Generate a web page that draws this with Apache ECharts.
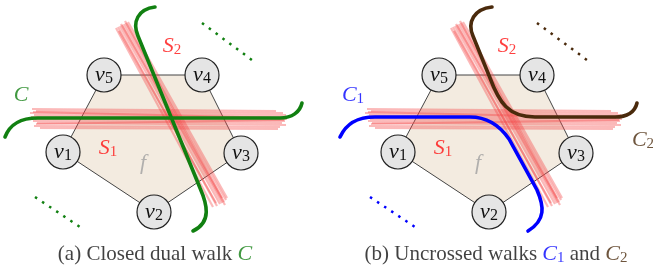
<!DOCTYPE html>
<html lang="en">
<head>
    <meta charset="UTF-8">
    <title>dual walks</title>
    <script type="text/javascript" src="https://cdn.jsdelivr.net/npm/echarts@6/dist/echarts.min.js"></script>
</head>
<body style="margin:0">
<div id="chart" style="width: 653px;height: 272px"></div>
<script type="text/javascript">

    // the two panels are the same drawing, the right one sits 335px further
    var panelShift = [0, 335];

    // face f : v1 v2 v3 v4 v5
    var nodeIds = ['1', '2', '3', '4', '5'];
    var nodeXY = [[63, 152], [154, 212], [241, 153], [202, 75], [104, 75]];

    // sketchy strokes of the two red bands S1 and S2
    var stripS1 = [
        [[32, 109], [276, 111]], [[36, 111], [283, 113]], [[30, 113], [286, 115]],
        [[34, 115], [284, 117]], [[31, 117], [287, 119]], [[35, 119], [285, 121]],
        [[33, 121], [282, 123]], [[37, 123], [286, 125]], [[34, 126], [280, 127]],
        [[40, 128], [278, 129]], [[33, 112], [281, 118]], [[36, 124], [284, 120]]
    ];
    var stripS2 = [
        [[116, 28], [213, 207]], [[118, 27], [217, 206]], [[120, 26], [220, 204]],
        [[122, 25], [222, 203]], [[124, 24], [224, 202]], [[126, 23], [226, 200]],
        [[128, 22], [227, 198]], [[119, 31], [216, 203]], [[125, 21], [222, 198]],
        [[121, 24], [225, 205]]
    ];

    // walks, as path commands in picture coordinates
    var walkC_h = [['M', 5, 137], ['C', 10, 124, 20, 118, 38, 118], ['L', 280, 118], ['C', 292, 118, 300, 112, 302, 103]];
    var walkC_d = [['M', 155, 7], ['C', 138, 9, 132, 22, 138, 36], ['L', 200, 188], ['C', 207, 204, 212, 222, 193, 231]];
    var walkC1 = [['M', 340, 137], ['C', 346, 124, 356, 117, 375, 117], ['L', 470, 117], ['C', 488, 117, 500, 126, 509, 139], ['L', 537, 190], ['C', 544, 206, 546, 220, 528, 231]];
    var walkC2 = [['M', 492, 7], ['C', 474, 9, 467, 22, 473, 36], ['L', 490, 78], ['C', 499, 102, 508, 117, 535, 117], ['L', 615, 117], ['C', 627, 117, 635, 112, 637, 103]];

    var walks = [
        {path: walkC_h, color: '#118011'},
        {path: walkC_d, color: '#118011'},
        {path: walkC1, color: '#0000ff'},
        {path: walkC2, color: '#4a2a0c'}
    ];

    var dots = [
        {line: [[202, 23], [252, 60]], color: '#118011'},
        {line: [[35, 197], [80, 227]], color: '#118011'},
        {line: [[537, 23], [587, 60]], color: '#4a2a0c'},
        {line: [[370, 197], [415, 227]], color: '#0000ff'}
    ];

    // labels : x, y, text
    var labels = [
        [21, 95, '{g|C}'],
        [172, 46, '{r|S}{rs|2}'],
        [108, 148, '{r|S}{rs|1}'],
        [143, 163, '{f|f}'],
        [353, 95, '{b|C}{bs|1}'],
        [507, 46, '{r|S}{rs|2}'],
        [443, 148, '{r|S}{rs|1}'],
        [478, 163, '{f|f}'],
        [643, 140, '{br|C}{brs|2}']
    ];
    var captions = [
        [155, 254, '{t|(a) Closed dual walk }{g|C}'],
        [496, 254, '{t|(b) Uncrossed walks }{b|C}{bs|1}{t| and }{br|C}{brs|2}']
    ];

    var serif = 'Liberation Serif';
    var mathRich = {
        t: {fontFamily: serif, fontSize: 21, color: '#111'},
        g: {fontFamily: serif, fontStyle: 'italic', fontSize: 22, color: '#118011'},
        r: {fontFamily: serif, fontStyle: 'italic', fontSize: 22, color: '#ff1010'},
        rs: {fontFamily: serif, fontSize: 15, color: '#ff1010', padding: [9, 0, 0, 0]},
        b: {fontFamily: serif, fontStyle: 'italic', fontSize: 22, color: '#0000ff'},
        bs: {fontFamily: serif, fontSize: 15, color: '#0000ff', padding: [9, 0, 0, 0]},
        br: {fontFamily: serif, fontStyle: 'italic', fontSize: 22, color: '#4a2a0c'},
        brs: {fontFamily: serif, fontSize: 15, color: '#4a2a0c', padding: [9, 0, 0, 0]},
        f: {fontFamily: serif, fontStyle: 'italic', fontSize: 22, color: '#a0a0a0'},
        v: {fontFamily: serif, fontStyle: 'italic', fontSize: 22, color: '#111'},
        vs: {fontFamily: serif, fontSize: 16, color: '#111', padding: [7, 0, 0, 0]}
    };

    var myChart = echarts.init(document.getElementById('chart'));

    var series = [];

    panelShift.forEach(function (dx) {
        var face = nodeXY.map(function (p) { return [p[0] + dx, p[1]]; });

        series.push({
            type: 'custom',
            z: 1,
            silent: true,
            data: [0],
            renderItem: function (params, api) {
                return {
                    type: 'polygon',
                    shape: {points: face.map(function (p) { return api.coord(p); })},
                    style: {fill: '#f3ebe0', stroke: '#444', lineWidth: 1}
                };
            }
        });

        [stripS1, stripS2].forEach(function (strip) {
            strip.forEach(function (s) {
                series.push({
                    type: 'line',
                    z: 3,
                    silent: true,
                    symbol: 'none',
                    data: [[s[0][0] + dx, s[0][1]], [s[1][0] + dx, s[1][1]]],
                    lineStyle: {color: 'rgba(245,70,70,0.38)', width: 2.2}
                });
            });
        });

        series.push({
            type: 'scatter',
            z: 6,
            symbolSize: 34,
            data: face.map(function (p, i) { return {value: p, name: nodeIds[i]}; }),
            itemStyle: {color: '#e5e5e5', borderColor: '#222', borderWidth: 1.2, opacity: 1},
            label: {
                show: true,
                position: 'inside',
                formatter: function (p) { return '{v|v}{vs|' + p.name + '}'; },
                rich: mathRich
            }
        });
    });

    series.push({
        type: 'custom',
        z: 5,
        silent: true,
        data: walks.map(function (w, i) { return i; }),
        renderItem: function (params, api) {
            var w = walks[params.dataIndex];
            var d = '';
            w.path.forEach(function (c) {
                d += c[0];
                for (var k = 1; k < c.length; k += 2) {
                    var q = api.coord([c[k], c[k + 1]]);
                    d += ' ' + q[0] + ' ' + q[1];
                }
                d += ' ';
            });
            return {
                type: 'path',
                shape: {pathData: d},
                style: {fill: null, stroke: w.color, lineWidth: 3.6, lineCap: 'round'}
            };
        }
    });

    dots.forEach(function (dt) {
        series.push({
            type: 'line',
            z: 5,
            silent: true,
            symbol: 'none',
            data: dt.line,
            lineStyle: {color: dt.color, width: 2.5, type: [2.5, 6]}
        });
    });

    series.push({
        type: 'scatter',
        z: 7,
        symbolSize: 0,
        silent: true,
        data: labels.concat(captions).map(function (l) { return {value: [l[0], l[1]], name: l[2]}; }),
        label: {
            show: true,
            position: 'inside',
            formatter: function (p) { return p.name; },
            rich: mathRich
        }
    });

    var option = {
        animation: false,
        grid: {left: 0, right: 0, top: 0, bottom: 0},
        xAxis: {type: 'value', min: 0, max: 653, show: false},
        yAxis: {type: 'value', min: 0, max: 272, inverse: true, show: false},
        series: series
    };
    myChart.setOption(option, true);
</script>
</body>
</html>
